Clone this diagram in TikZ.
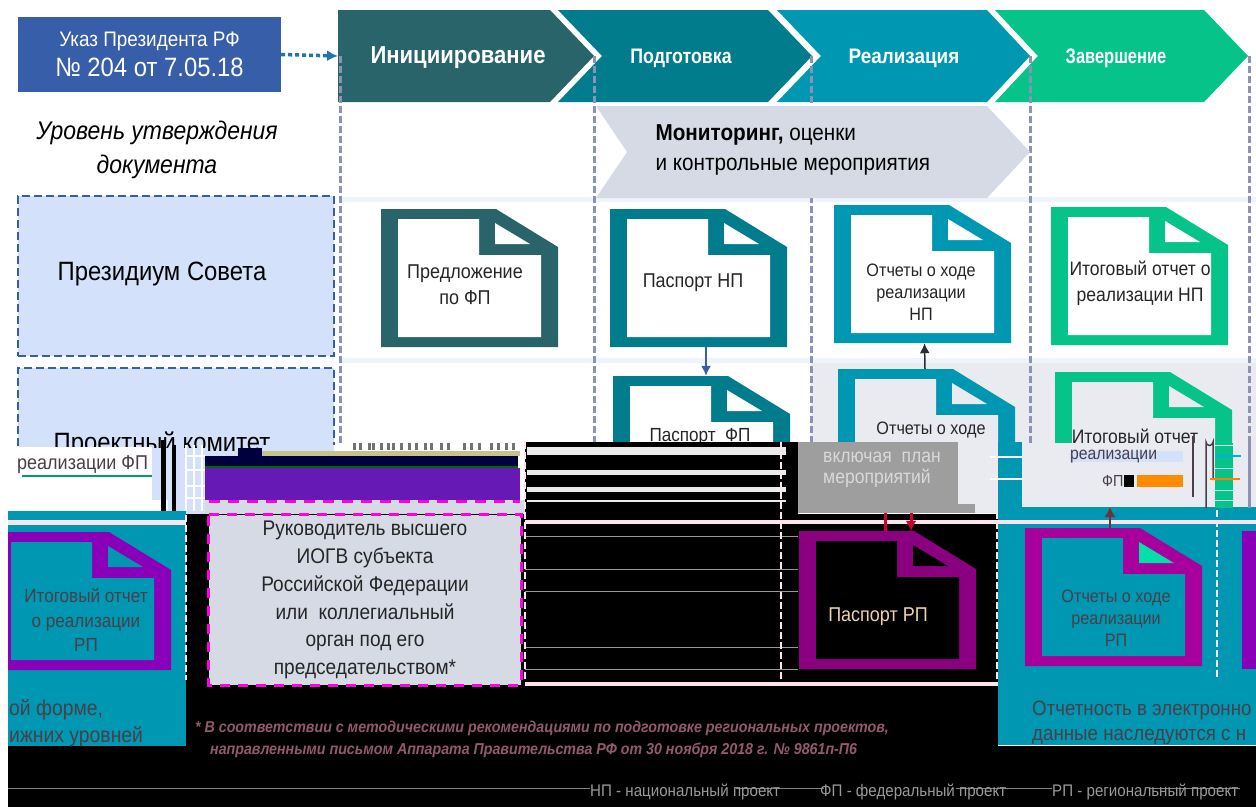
\documentclass[tikz,border=0pt]{standalone}
\usepackage{fontspec}
\setmainfont[FakeStretch=0.9]{Liberation Sans}
\usetikzlibrary{arrows.meta}

\definecolor{stepA}{HTML}{28646A}
\definecolor{stepB}{HTML}{007C8C}
\definecolor{stepC}{HTML}{0097B2}
\definecolor{stepD}{HTML}{05C389}
\definecolor{ukazblue}{HTML}{375EA8}
\definecolor{levelblue}{HTML}{D4E1FB}
\definecolor{monitorgrey}{HTML}{D6DAE4}
\definecolor{panelgrey}{HTML}{E9EBF0}
\definecolor{stripe}{HTML}{EFF3FB}
\definecolor{phase}{HTML}{8A93B5}
\definecolor{hotpink}{HTML}{FF00E0}
\definecolor{violet}{HTML}{8A00B8}
\definecolor{plum}{HTML}{8B0080}
\definecolor{orchid}{HTML}{A8009C}
\definecolor{glitch}{HTML}{4A3F48}
\definecolor{paleband}{HTML}{FBE4EE}
\definecolor{deeppurple}{HTML}{6619B5}
\definecolor{navy}{HTML}{00003C}
\definecolor{mint}{HTML}{00E0A8}

\tikzset{
  steplabel/.style={text=white, font=\fontsize{21}{25}\selectfont\bfseries},
  doctext/.style={align=center, font=\fontsize{18}{22}\selectfont, text=black!85},
  levelbox/.style={draw=ukazblue, fill=levelblue, line width=2.5pt, dash pattern=on 8pt off 4pt, inner sep=0pt},
  phaseline/.style={draw=phase, line width=3pt, dash pattern=on 7pt off 3pt},
  lowerline/.style={draw=paleband, line width=2.5pt, dash pattern=on 7pt off 3pt},
  docframe/.style={minimum width=177pt, minimum height=138pt, inner sep=0pt},
  panelnote/.style={anchor=base west, font=\fontsize{21.5}{26}\selectfont, text=glitch, inner sep=0pt},
  legend/.style={anchor=west, inner sep=0pt, font=\fontsize{16.8}{18}\selectfont, text=black!40!white},
  garble/.style={anchor=west, font=\fontsize{20}{22}\selectfont, text=glitch, inner sep=0pt},
}

\newcommand{\DocIcon}[6]{
  \begin{scope}[shift={(#2,#3)}]
    \fill[#4] (0,0) -- (115,0) -- (177,38) -- (177,138) -- (0,138) -- cycle;
    \fill[#5] (17,10) -- (98,10) -- (98,46) -- (160,46) -- (160,128) -- (17,128) -- cycle;
    \fill[#6] (114,14) -- (114,35) -- (149,35) -- cycle;
    \node[docframe] (#1) at (88.5,69) {};
  \end{scope}
}

\begin{document}
\begin{tikzpicture}[x=1pt, y=-1pt]
\useasboundingbox (0,0) rectangle (1256,807);

% upper part
\node[fill=ukazblue, minimum width=263pt, minimum height=75pt, inner sep=0pt, align=center, text=white,
  font=\fontsize{21}{30}\selectfont] (ukaz) at (149.5,54.5) {Указ Президента РФ\\{\fontsize{26.5}{30}\selectfont № 204 от 7.05.18}};

\fill[stepD] (995,10) -- (1204,10) -- (1248,56) -- (1204,102) -- (995,102) -- (1038,56) -- cycle;
\fill[stepC] (777,10) -- (987,10) -- (1030,56) -- (987,102) -- (777,102) -- (821,56) -- cycle;
\fill[stepB] (558,10) -- (768,10) -- (812,56) -- (768,102) -- (558,102) -- (602,56) -- cycle;
\fill[stepA] (338,10) -- (550,10) -- (594,56) -- (550,102) -- (338,102) -- cycle;
\node[steplabel, font=\fontsize{24.5}{28}\selectfont\bfseries] (init) at (458,58) {Инициирование};
\node[steplabel, xscale=.94, transform shape] (prep) at (681,58) {Подготовка};
\node[steplabel] (real) at (904,58) {Реализация};
\node[steplabel, xscale=.87, transform shape] (fin) at (1116,58) {Завершение};
\coordinate (initleft) at (338,56);
\draw[-{Latex[length=11pt,width=11pt]}, stepC!40!ukazblue, line width=3.5pt, dash pattern=on 4pt off 3pt] (ukaz.east) -- (initleft);

\node[align=center, font=\fontsize{25.5}{34}\selectfont\itshape] (level) at (157,150) {Уровень утверждения\\документа};

\fill[stripe] (340,197) rectangle (1256,202);
\fill[stripe] (340,358) rectangle (1256,363);
\fill[panelgrey] (811,363) rectangle (1256,510);

\draw[phaseline] (340,56) -- (340,448);
\draw[phaseline] (594,56) -- (594,448);
\draw[phaseline] (811,56) -- (811,448);
\draw[phaseline] (1030,56) -- (1030,448);
\draw[phaseline] (1249,56) -- (1249,510);

\fill[monitorgrey] (596,106) -- (987,106) -- (1030,152) -- (987,198) -- (596,198) -- (627,152) -- cycle;
\node[anchor=west, align=left, font=\fontsize{23}{30}\selectfont] (monitor) at (652,150)
  {\textbf{Мониторинг,} оценки\\и контрольные мероприятия};

\node[levelbox, minimum width=316pt, minimum height=160pt] (presidium) at (176,276) {};
\node[font=\fontsize{26.5}{30}\selectfont] (presidiumtext) at (162,274) {Президиум Совета};
\node[levelbox, minimum width=316pt, minimum height=150pt] (committee) at (176,443) {};
\node[font=\fontsize{26.5}{30}\selectfont] (committeetext) at (162,444) {Проектный комитет};

\DocIcon{dinit}{381}{209}{stepA}{white}{white}
\DocIcon{pnp}{610}{209}{stepB}{white}{white}
\DocIcon{onp}{834}{205}{stepC}{white}{white}
\DocIcon{inp}{1051}{207}{stepD}{white}{white}
\DocIcon{pfp}{613}{376}{stepB}{white}{white}
\DocIcon{ofp}{838}{369}{stepC}{panelgrey}{panelgrey}
\DocIcon{ifp}{1055}{372}{stepD}{panelgrey}{panelgrey}

\node[doctext, font=\fontsize{20}{26}\selectfont] (t1) at (465,285) {Предложение\\по ФП};
\node[doctext, font=\fontsize{20}{26}\selectfont] (t2) at (693,283) {Паспорт НП};
\node[doctext] (t3) at (921,292) {Отчеты о ходе\\реализации\\НП};
\node[doctext, font=\fontsize{19.5}{26}\selectfont] (t4) at (1140,283) {Итоговый отчет о\\реализации НП};
\node[doctext, font=\fontsize{19}{22}\selectfont] (t5) at (700,437) {Паспорт \ ФП};
\node[doctext] (t6) at (931,430) {Отчеты о ходе};
\node[doctext, inner sep=0pt, font=\fontsize{19.5}{22}\selectfont] (t7) at (1135,436) {Итоговый отчет};

\draw[-{Latex[length=10pt,width=10pt]}, ukazblue, line width=1.5pt] ([xshift=7.5pt]pnp.south) -- ([xshift=4.5pt]pfp.north);
\draw[-{Latex[length=10pt,width=10pt]}, black!70!phase, line width=1.5pt] ([xshift=-1.5pt]ofp.north) -- ([xshift=2pt]onp.south);

% lower part
\fill[white] (0,447) rectangle (152,511);
\fill[white] (152,500) rectangle (168,511);
\fill[levelblue] (152,448) rectangle (205,500);
\fill[levelblue] (168,500) rectangle (205,511);
\fill[stepD!80!black] (22,475) rectangle (152,477);
\node[garble] (garbleA) at (17,465) {реализации ФП};
\fill[black] (161,440) rectangle (166,511);
\fill[black] (172,445) rectangle (176,511);
\draw[white, line width=1.5pt] (186,445) -- (186,511) (194,445) -- (194,511) (202,445) -- (202,511)
  (186,456) -- (205,456) (186,470) -- (205,470) (186,486) -- (205,486) (186,498) -- (205,498);
\fill[white] (334,445) rectangle (525,451);
\fill[levelblue] (262,445) rectangle (334,451);
\foreach \xtick in {353,359,368,372,380,387,392,400,408,415,424,430,440,447,463,470,478,490,497,505,512}
  \fill[black!55] (\xtick,443) rectangle (\xtick+3,450);
\fill[monitorgrey] (205,500) rectangle (525,514);
\fill[olive!30!monitorgrey] (262,451) rectangle (520,456);
\fill[navy] (238,448) rectangle (262,456);
\fill[navy] (205,456) rectangle (518,466);
\fill[green!40!black] (205,466) rectangle (518,468);
\fill[deeppurple] (205,468) rectangle (520,500);
\draw[hotpink, line width=3pt, dash pattern=on 11pt off 8pt] (209,501) -- (520,501);

% black ground
\fill[black] (525,442) rectangle (798,521);
\fill[black] (186,514) rectangle (998,807);
\fill[black] (0,746) rectangle (1256,807);
\fill[white] (0,746) rectangle (8,807);
\foreach \ya/\yb in {447/455, 470/475, 487/492, 500/502}
  \fill[black!8] (527,\ya) rectangle (786,\yb);
\foreach \yline in {536, 569, 591, 647, 669}
  \draw[black!40, line width=1pt] (525,\yline) -- (798,\yline);
\fill[paleband] (525,520) rectangle (1256,524);
\fill[paleband] (525,682) rectangle (998,686);

\node[fill=black!38, minimum width=160pt, minimum height=71pt, inner sep=0pt] (plan) at (878,477.5) {};
\fill[black!38] (958,504) rectangle (975,513);
\fill[panelgrey] (958,442) rectangle (998,504);
\fill[panelgrey] (975,504) rectangle (998,513);
\node[anchor=west, text=white!85!black, font=\fontsize{19.5}{21}\selectfont, align=left, inner sep=0pt] (plantext) at (823,470)
  {включая \ план\\мероприятий};

% right teal panel
\fill[stepC] (998,507) rectangle (1256,745);
\fill[stepC] (998,442) rectangle (1022,507);
\fill[paleband] (998,520) rectangle (1256,524);
\draw[white, line width=1.5pt] (990,457) -- (1022,457) (990,479) -- (1022,479);
\fill[panelgrey] (1022,443) rectangle (1215,507);
\fill[levelblue] (1070,451) rectangle (1183,462);
\fill[stepD] (1215,443) rectangle (1233,508);
\draw[white!80!stepD, line width=1pt] (1215,445) -- (1233,445) (1215,468) -- (1233,468) (1215,490) -- (1233,490) (1215,500) -- (1233,500);
\draw[phase, line width=3pt] (1249,443) -- (1249,508);
\node[garble, font=\fontsize{17.5}{18}\selectfont] (garbleB) at (1070,457) {реализации};
\node[garble, font=\fontsize{16}{18}\selectfont] (garbleC) at (1102,481) {ФП};
\fill[black] (1124,475) rectangle (1134,487);
\fill[orange!90!yellow] (1137,475) rectangle (1183,487);
\draw[glitch, line width=1.5pt] (1193,436) -- (1193,497);
\draw[glitch, line width=1.5pt] (1206,508) -- (1206,442) arc[start angle=180, end angle=0, radius=3.5] -- (1213,480);
\draw[cyan, line width=1.5pt] (1215,456) -- (1241,456);
\draw[orange, line width=1.5pt] (1210,479) -- (1240,479);

% left teal panel
\fill[stepC] (8,511) rectangle (186,746);
\fill[paleband] (8,520) rectangle (186,525);

\begin{scope}
  \clip (8,500) rectangle (1256,807);
  \DocIcon{irp}{-6}{532}{violet}{stepC}{stepC}
  \DocIcon{prp}{799}{531}{plum}{black}{black}
  \DocIcon{orp}{1025}{528}{orchid}{stepC}{mint}
  \fill[violet] (1242,531) rectangle (1256,669);
\end{scope}

\node[panelnote] (leftA) at (9,715) {ой форме,};
\node[panelnote] (leftB) at (9,742) {ижних уровней};
\node[panelnote, font=\fontsize{20.8}{26}\selectfont] (rightA) at (1032,715) {Отчетность в электронно};
\node[panelnote, font=\fontsize{20.8}{26}\selectfont] (rightB) at (1032,740) {данные наследуются с н};

\node[doctext, font=\fontsize{19}{24.5}\selectfont, text=glitch] (t8) at (86,620) {Итоговый отчет\\о реализации\\РП};
\node[doctext, font=\fontsize{20}{22}\selectfont, text=black!20!orange!30!white] (t9) at (878,617) {Паспорт РП};
\node[doctext, text=glitch] (t10) at (1116,618) {Отчеты о ходе\\реализации\\РП};

\draw[purple!70!red, line width=3pt] ([xshift=7pt]plan.south) -- ([xshift=-2.5pt]prp.north);
\draw[-{Latex[length=10pt,width=11pt]}, purple!70!red, line width=3pt] ([xshift=33pt]plan.south) -- ([xshift=23.5pt]prp.north);
\coordinate (reportup) at (1110,507);
\draw[-{Latex[length=10pt,width=11pt]}, glitch!80!red, line width=2pt] ([xshift=-3.5pt]orp.north) -- (reportup);

\node[fill=monitorgrey, minimum width=312pt, minimum height=170pt, inner sep=0pt, align=center,
  font=\fontsize{21.2}{27.9}\selectfont, text=black!85] (head) at (365,600)
  {Руководитель высшего\\ИОГВ субъекта\\Российской Федерации\\или \ коллегиальный\\орган под его\\председательством*};
\draw[hotpink, line width=3pt, dash pattern=on 10pt off 8pt] (head.north west) -- (head.north east) -- (head.south east) -- (head.south west) -- cycle;

\draw[lowerline] (525,442) -- (525,680);
\draw[lowerline] (781,442) -- (781,680);
\draw[lowerline] (997,442) -- (997,680);
\draw[lowerline] (1217,510) -- (1217,680);
\draw[lowerline] (186,515) -- (186,680);

\draw[black!50, line width=1pt] (8,788) -- (590,788) (736,788) -- (824,788) (956,788) -- (1052,788);
\draw[black!50, line width=1pt] (1150,788) -- (1240,788);
\node[anchor=west, align=left, inner sep=0pt, font=\fontsize{15.8}{22}\selectfont\itshape\bfseries, text=black!50!white!70!purple] (note) at (195,739)
  {* В соответствии с методическими рекомендациями по подготовке региональных проектов,\\
  \hspace*{15pt}направленными письмом Аппарата Правительства РФ от 30 ноября 2018 г. № 9861п-П6};
\node[legend] (legA) at (590,792) {НП - национальный проект};
\node[legend] (legB) at (820,792) {ФП - федеральный проект};
\node[legend] (legC) at (1052,792) {РП - региональный проект};
\end{tikzpicture}
\end{document}
